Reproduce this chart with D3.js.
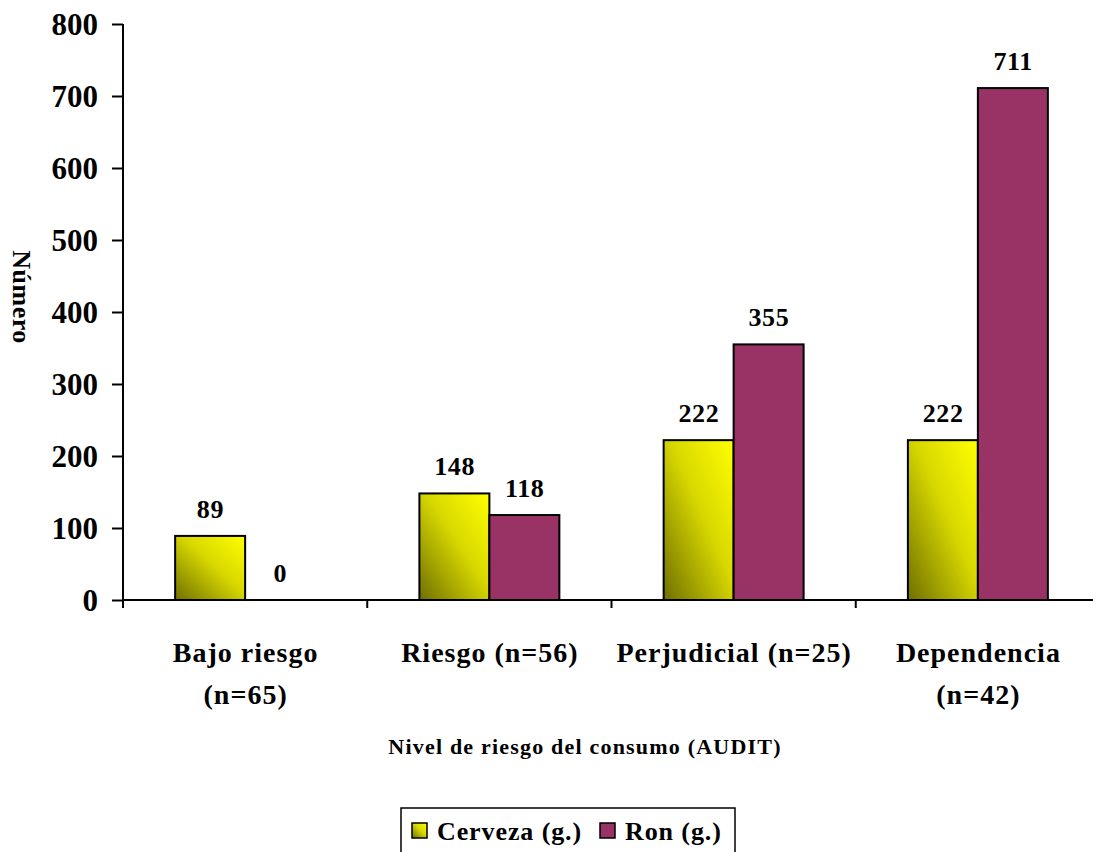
<!DOCTYPE html>
<html>
<head>
<meta charset="utf-8">
<script src="https://cdn.jsdelivr.net/npm/d3@7"></script>
<style>
  html, body { margin: 0; padding: 0; background: #fff; }
  svg { display: block; }
</style>
</head>
<body>
<svg id="chart" width="1093" height="852"></svg>
<script>
// Risk level categories (AUDIT) — each label may wrap to two lines
const categories = ["Bajo riesgo (n=65)", "Riesgo (n=56)", "Perjudicial (n=25)", "Dependencia (n=42)"];
const categoryLines = [["Bajo riesgo", "(n=65)"], ["Riesgo (n=56)"], ["Perjudicial (n=25)"], ["Dependencia", "(n=42)"]];
const seriesNames = ["Cerveza (g.)", "Ron (g.)"];
const cerveza = [89, 148, 222, 222];
const ron = [0, 118, 355, 711];
const yTicks = [0, 100, 200, 300, 400, 500, 600, 700, 800];

const FONT = "'Liberation Serif', 'Times New Roman', Times, serif";

const svg = d3.select("#chart");
const margin = { left: 123, top: 24, right: 1100, bottom: 600 };

const x = d3.scaleBand().domain(categories).range([margin.left, margin.right]);
const xs = d3.scaleBand().domain(seriesNames).range([0, x.bandwidth()]).paddingInner(0).paddingOuter(0.745);
const y = d3.scaleLinear().domain([0, 800]).range([margin.bottom, margin.top]);

function styleText(sel, size, spacing) {
  return sel.attr("font-family", FONT).attr("font-weight", "bold").attr("font-size", size)
    .attr("letter-spacing", spacing || 0).attr("fill", "#000");
}

// Gradient for the beer bars: dark olive at lower-left to bright yellow at upper-right
const defs = svg.append("defs");
const grad = defs.append("linearGradient").attr("id", "beerGrad")
  .attr("x1", "0%").attr("y1", "100%").attr("x2", "100%").attr("y2", "0%");
grad.append("stop").attr("offset", "0%").attr("stop-color", "#6f6f00");
grad.append("stop").attr("offset", "55%").attr("stop-color", "#d8d800");
grad.append("stop").attr("offset", "100%").attr("stop-color", "#ffff00");

const fills = { "Cerveza (g.)": "url(#beerGrad)", "Ron (g.)": "#993366" };

const rows = categories.map((c, i) => ({ cat: c, values: [
  { key: "Cerveza (g.)", v: cerveza[i] },
  { key: "Ron (g.)", v: ron[i] }
]}));

// Y axis
const yAxis = svg.append("g").attr("transform", `translate(${margin.left},0)`)
  .call(d3.axisLeft(y).tickValues(yTicks).tickSize(11).tickPadding(14).tickFormat(d3.format("d")));
yAxis.select(".domain").attr("stroke", "#000").attr("stroke-width", 2).attr("d", `M0,${margin.top}V${margin.bottom + 8}`);
yAxis.selectAll(".tick line").attr("stroke", "#000").attr("stroke-width", 2);
styleText(yAxis.selectAll(".tick text"), 31).attr("dy", "0.35em");

// X axis
const xAxis = svg.append("g").attr("transform", `translate(0,${margin.bottom})`)
  .call(d3.axisBottom(x).tickSize(0).tickFormat(""));
xAxis.select(".domain").attr("stroke", "#000").attr("stroke-width", 2).attr("d", `M${margin.left},0H${margin.right}`);
xAxis.selectAll(".tick").remove();
// category separator ticks
const bounds = categories.map(c => x(c)).concat([x(categories[categories.length - 1]) + x.bandwidth()]);
xAxis.selectAll("line.sep").data(bounds.slice(1)).join("line").attr("class", "sep")
  .attr("x1", d => d).attr("x2", d => d).attr("y1", 0).attr("y2", 8)
  .attr("stroke", "#000").attr("stroke-width", 2);

// Bars
const groups = svg.append("g").selectAll("g").data(rows).join("g")
  .attr("transform", d => `translate(${x(d.cat)},0)`);
groups.selectAll("rect").data(d => d.values.filter(v => v.v > 0)).join("rect")
  .attr("x", d => xs(d.key))
  .attr("y", d => y(d.v))
  .attr("width", xs.bandwidth())
  .attr("height", d => y(0) - y(d.v))
  .attr("fill", d => fills[d.key])
  .attr("stroke", "#000").attr("stroke-width", 2);

// Value labels
styleText(groups.selectAll("text").data(d => d.values).join("text"), 26, 0.6)
  .attr("x", d => xs(d.key) + xs.bandwidth() / 2 + 0.3)
  .attr("y", d => y(d.v) - 18)
  .attr("text-anchor", "middle")
  .text(d => d.v);

// Category labels
const catG = styleText(svg.append("g").selectAll("text").data(categories).join("text"), 28, 1.0)
  .attr("x", d => x(d) + x.bandwidth() / 2 + 0.5)
  .attr("y", 662)
  .attr("text-anchor", "middle");
catG.selectAll("tspan").data((d, i) => categoryLines[i]).join("tspan")
  .attr("x", function () { return d3.select(this.parentNode).attr("x"); })
  .attr("dy", (d, i) => i === 0 ? 0 : 42)
  .text(d => d);

// Axis titles
styleText(svg.append("text"), 22, 1.2).attr("x", 585).attr("y", 754)
  .attr("text-anchor", "middle")
  .text("Nivel de riesgo del consumo (AUDIT)");
styleText(svg.append("text"), 26, 0.5).attr("transform", "translate(13,297) rotate(90)")
  .attr("text-anchor", "middle")
  .text("Número");

// Legend
const legend = svg.append("g").attr("transform", "translate(401,808)");
legend.append("rect").attr("x", 0).attr("y", 0).attr("width", 334).attr("height", 60)
  .attr("fill", "#fff").attr("stroke", "#000").attr("stroke-width", 1.5);
const legendX = [11, 199];
const items = legend.selectAll("g.item").data(seriesNames).join("g").attr("class", "item")
  .attr("transform", (d, i) => `translate(${legendX[i]},0)`);
items.append("rect").attr("x", 0).attr("y", 15).attr("width", 15).attr("height", 15)
  .attr("fill", d => fills[d]).attr("stroke", "#000").attr("stroke-width", 1.5);
styleText(items.append("text"), 26, 0.9).attr("x", 25).attr("y", 32).text(d => d);
</script>
</body>
</html>
